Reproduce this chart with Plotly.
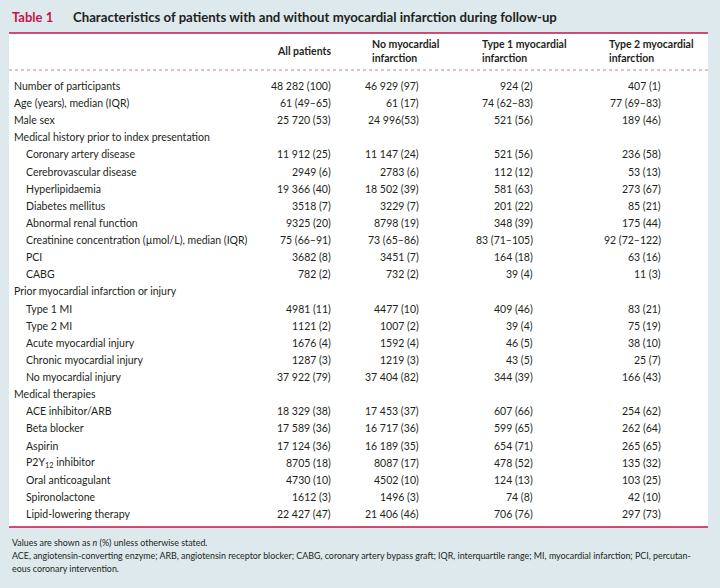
import plotly.graph_objects as go

# ---------------- data ----------------
title_tag = "Table 1"
title_text = "Characteristics of patients with and without myocardial infarction during follow-up"

column_headers = [
    "All patients",
    "No myocardial<br>infarction",
    "Type 1 myocardial<br>infarction",
    "Type 2 myocardial<br>infarction",
]

row_labels = [
    "Number of participants", "Age (years), median (IQR)", "Male sex",
    "Medical history prior to index presentation",
    "Coronary artery disease", "Cerebrovascular disease", "Hyperlipidaemia",
    "Diabetes mellitus", "Abnormal renal function",
    "Creatinine concentration (µmol/L), median (IQR)", "PCI", "CABG",
    "Prior myocardial infarction or injury",
    "Type 1 MI", "Type 2 MI", "Acute myocardial injury",
    "Chronic myocardial injury", "No myocardial injury",
    "Medical therapies",
    "ACE inhibitor/ARB", "Beta blocker", "Aspirin",
    "P2Y<sub>12</sub> inhibitor", "Oral anticoagulant", "Spironolactone",
    "Lipid-lowering therapy",
]
row_indented = [0, 0, 0, 0, 1, 1, 1, 1, 1, 1, 1, 1, 0, 1, 1, 1, 1, 1, 0,
                1, 1, 1, 1, 1, 1, 1]

all_patients = ["48 282 (100)", "61 (49–65)", "25 720 (53)", "",
                "11 912 (25)", "2949 (6)", "19 366 (40)", "3518 (7)",
                "9325 (20)", "75 (66–91)", "3682 (8)", "782 (2)", "",
                "4981 (11)", "1121 (2)", "1676 (4)", "1287 (3)", "37 922 (79)",
                "", "18 329 (38)", "17 589 (36)", "17 124 (36)", "8705 (18)",
                "4730 (10)", "1612 (3)", "22 427 (47)"]
no_mi = ["46 929 (97)", "61 (17)", "24 996(53)", "",
         "11 147 (24)", "2783 (6)", "18 502 (39)", "3229 (7)",
         "8798 (19)", "73 (65–86)", "3451 (7)", "732 (2)", "",
         "4477 (10)", "1007 (2)", "1592 (4)", "1219 (3)", "37 404 (82)",
         "", "17 453 (37)", "16 717 (36)", "16 189 (35)", "8087 (17)",
         "4502 (10)", "1496 (3)", "21 406 (46)"]
type1_mi = ["924 (2)", "74 (62–83)", "521 (56)", "",
            "521 (56)", "112 (12)", "581 (63)", "201 (22)",
            "348 (39)", "83 (71–105)", "164 (18)", "39 (4)", "",
            "409 (46)", "39 (4)", "46 (5)", "43 (5)", "344 (39)",
            "", "607 (66)", "599 (65)", "654 (71)", "478 (52)",
            "124 (13)", "74 (8)", "706 (76)"]
type2_mi = ["407 (1)", "77 (69–83)", "189 (46)", "",
            "236 (58)", "53 (13)", "273 (67)", "85 (21)",
            "175 (44)", "92 (72–122)", "63 (16)", "11 (3)", "",
            "83 (21)", "75 (19)", "38 (10)", "25 (7)", "166 (43)",
            "", "254 (62)", "262 (64)", "265 (65)", "135 (32)",
            "103 (25)", "42 (10)", "297 (73)"]

footnotes = [
    "Values are shown as <i>n</i> (%) unless otherwise stated.",
    "ACE, angiotensin-converting enzyme; ARB, angiotensin receptor blocker; CABG, coronary artery bypass graft; IQR, interquartile range; MI, myocardial infarction; PCI, percutan-",
    "eous coronary intervention.",
]

# ---------------- layout / style ----------------
W, H = 720, 588
FONT = "Lato, 'Open Sans', sans-serif"
TXT = "#231f20"
CRIMSON = "#c3154a"
BG = "#dde9ed"

fig = go.Figure()
ann = []

def add(text, x, y, size=10.5, anchor="left", bold=False, color=TXT):
    ann.append(dict(text=f"<b>{text}</b>" if bold else text, x=x, y=y,
                    xref="x", yref="y", xanchor=anchor, yanchor="middle",
                    showarrow=False, font=dict(family=FONT, size=size, color=color),
                    align="left"))

# title
add(title_tag, 10, 17, size=13, bold=True, color=CRIMSON)
add(title_text, 71, 17, size=13.2, bold=True)

# headers
header_x = [275, 370, 480, 607]
for hx, h in zip(header_x, column_headers):
    ann.append(dict(text=f"<b>{h}</b>", x=hx, y=51, xref="x", yref="y",
                    xanchor="left", yanchor="middle", showarrow=False,
                    align="left",
                    font=dict(family=FONT, size=10.5, color=TXT)))

# rows
y0, dy = 86, 17.12
col_right = [333, 421, 535, 663]
cols = [all_patients, no_mi, type1_mi, type2_mi]
for i, lab in enumerate(row_labels):
    y = y0 + i * dy
    add(lab, 24 if row_indented[i] else 12, y)
    for cx, col in zip(col_right, cols):
        if col[i]:
            add(col[i], cx, y, anchor="right")

# footnotes
for k, fn in enumerate(footnotes):
    add(fn, 10, 542 + k * 13.3, size=8.9)

shapes = [
    dict(type="rect", x0=9, x1=708, y0=33, y1=527, xref="x", yref="y",
         fillcolor="white", line=dict(width=0), layer="below"),
    dict(type="line", x0=9, x1=708, y0=33, y1=33, xref="x", yref="y",
         line=dict(color=CRIMSON, width=1.5)),
    dict(type="line", x0=9, x1=708, y0=70, y1=70, xref="x", yref="y",
         line=dict(color="#d77a90", width=1, dash="dot")),
    dict(type="line", x0=9, x1=708, y0=527, y1=527, xref="x", yref="y",
         line=dict(color=CRIMSON, width=1.5)),
]

fig.update_layout(
    width=W, height=H, margin=dict(l=0, r=0, t=0, b=0),
    paper_bgcolor=BG, plot_bgcolor=BG,
    xaxis=dict(range=[0, W], visible=False, fixedrange=True),
    yaxis=dict(range=[H, 0], visible=False, fixedrange=True),
    annotations=ann, shapes=shapes, showlegend=False,
)
fig.write_html(
    "out.html",
    config={"displayModeBar": False},
    post_script="document.body.style.margin='0';document.body.style.overflow='hidden';",
)
